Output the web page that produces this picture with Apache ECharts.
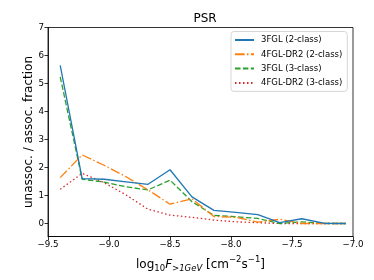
<!DOCTYPE html>
<html>
<head>
<meta charset="utf-8">
<script src="https://cdn.jsdelivr.net/npm/echarts@6/dist/echarts.min.js"></script>
<style>html,body{margin:0;padding:0;background:#fff}#c{width:374px;height:280px}</style>
</head>
<body>
<div id="c"></div>
<script>
const xValues = [-9.40, -9.22, -9.04, -8.86, -8.68, -8.50, -8.32, -8.14, -7.96, -7.78, -7.60, -7.42, -7.24, -7.06];
const fgl3Two   = [5.65, 1.60, 1.58, 1.49, 1.40, 1.92, 0.95, 0.47, 0.40, 0.32, 0.03, 0.17, 0.01, 0.00];
const dr2Two    = [1.64, 2.45, 2.08, 1.67, 1.20, 0.69, 0.88, 0.25, 0.22, 0.05, 0.15, 0.00, 0.00, 0.00];
const fgl3Three = [5.24, 1.58, 1.48, 1.31, 1.20, 1.55, 0.78, 0.29, 0.24, 0.18, 0.00, 0.06, 0.00, 0.00];
const dr2Three  = [1.22, 1.79, 1.46, 1.02, 0.51, 0.30, 0.22, 0.12, 0.06, 0.03, 0.00, 0.00, 0.00, 0.00];
const seriesNames = ['3FGL (2-class)', '4FGL-DR2 (2-class)', '3FGL (3-class)', '4FGL-DR2 (3-class)'];
const xTicks = [-9.5, -9.0, -8.5, -8.0, -7.5, -7.0];
const yTicks = [0, 1, 2, 3, 4, 5, 6, 7];

const FONT = 'DejaVu Sans';
const colors = ['#1f77b4', '#ff7f0e', '#2ca02c', '#d62728'];
const dashes = ['solid', [9.6, 2.4, 1.5, 2.4], [5.5, 2.4], [1.5, 2.5]];
const allData = [fgl3Two, dr2Two, fgl3Three, dr2Three];

const chart = echarts.init(document.getElementById('c'), null, {renderer: 'canvas'});
const fmt = v => (v < 0 ? '\u2212' : '') + Math.abs(v).toFixed(1);

chart.setOption({
  animation: false,
  backgroundColor: '#fff',
  title: {
    text: 'PSR', left: 200, top: 8, textAlign: 'center',
    textStyle: {fontFamily: FONT, fontSize: 12, fontWeight: 'normal', color: '#000'}
  },
  grid: {left: 48, right: 21, top: 27.5, bottom: 43.5, show: true, borderColor: '#000', borderWidth: 0.8, containLabel: false, outerBoundsMode: 'none'},
  legend: {
    orient: 'vertical', left: 231, top: 31.5,
    data: seriesNames,
    itemWidth: 19, itemHeight: 8, itemGap: 5.3,
    padding: [4, 5, 4, 3],
    backgroundColor: '#fff', borderColor: '#ccc', borderWidth: 0.8, borderRadius: 3,
    itemStyle: {color: 'rgba(0,0,0,0)', borderWidth: 0, opacity: 0},
    textStyle: {fontFamily: FONT, fontSize: 8.5, color: '#000', padding: [0, 0, 0, 2]}
  },
  xAxis: {
    type: 'value', min: -9.5, max: -7.0, interval: 0.5,
    axisLine: {show: true, onZero: false, lineStyle: {color: '#000', width: 0.8}},
    axisTick: {show: true, length: 3.5, lineStyle: {color: '#000', width: 0.8}},
    axisLabel: {fontFamily: FONT, fontSize: 8.7, color: '#000', margin: 4, formatter: fmt, showMinLabel: true, showMaxLabel: true},
    splitLine: {show: false},
    name: '{n|log}{s|10}{i|F}{si|>1GeV}{n| [cm}{p|\u22122}{n|s}{p|\u22121}{n|]}',
    nameLocation: 'middle', nameGap: 19,
    nameTextStyle: {
      rich: {
        n: {fontFamily: FONT, fontSize: 12, color: '#000', verticalAlign: 'middle', lineHeight: 18},
        i: {fontFamily: FONT, fontSize: 12, fontStyle: 'italic', color: '#000', verticalAlign: 'middle', lineHeight: 18},
        s: {fontFamily: FONT, fontSize: 8.5, color: '#000', verticalAlign: 'bottom', lineHeight: 10},
        si: {fontFamily: FONT, fontSize: 8.5, fontStyle: 'italic', color: '#000', verticalAlign: 'bottom', lineHeight: 10},
        p: {fontFamily: FONT, fontSize: 8.5, color: '#000', verticalAlign: 'top', lineHeight: 10}
      }
    }
  },
  yAxis: {
    type: 'value', min: -0.464, max: 7.0,
    axisLine: {show: true, lineStyle: {color: '#000', width: 0.8}},
    axisTick: {show: true, length: 3.5, lineStyle: {color: '#000', width: 0.8}, customValues: yTicks},
    axisLabel: {fontFamily: FONT, fontSize: 8.7, color: '#000', margin: 4, customValues: yTicks, formatter: v => String(Math.round(v))},
    splitLine: {show: false},
    name: 'unassoc. / assoc. fraction',
    nameLocation: 'middle', nameGap: 13, nameMoveOverlap: false,
    nameTextStyle: {fontFamily: FONT, fontSize: 12, color: '#000'}
  },
  series: allData.map((arr, k) => ({
    name: seriesNames[k],
    type: 'line',
    data: xValues.map((x, i) => [x, arr[i]]),
    symbol: 'none',
    color: colors[k],
    lineStyle: {color: colors[k], width: 1.3, type: dashes[k]},
    z: 4 - k
  }))
});
</script>
</body>
</html>
